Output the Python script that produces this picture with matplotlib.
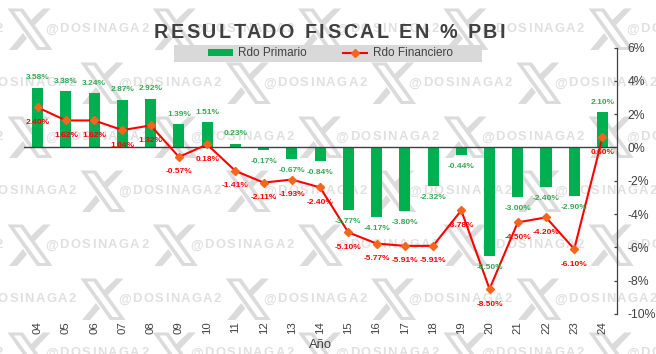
import matplotlib
matplotlib.use("Agg")
import matplotlib.pyplot as plt
from matplotlib.patches import Polygon, Rectangle
from matplotlib.text import Text
from matplotlib.transforms import IdentityTransform
from matplotlib.ticker import FuncFormatter

plt.rcParams['font.family'] = ['Liberation Sans', 'DejaVu Sans']

years = ['04','05','06','07','08','09','10','11','12','13','14','15','16','17','18','19','20','21','22','23','24']
primario = [3.58,3.38,3.24,2.87,2.92,1.39,1.51,0.23,-0.17,-0.67,-0.84,-3.77,-4.17,-3.80,-2.32,-0.44,-6.50,-3.00,-2.40,-2.90,2.10]
financiero = [2.40,1.62,1.62,1.04,1.32,-0.57,0.18,-1.41,-2.11,-1.93,-2.40,-5.10,-5.77,-5.91,-5.91,-3.78,-8.50,-4.50,-4.20,-6.10,0.60]
yticks = [6,4,2,0,-2,-4,-6,-8,-10]

W, H = 656, 354
GREEN, RED, ORANGE = '#00b050', '#ff0000', '#f5651d'
LABEL_GREEN = '#35a853'
DARK, WM, WMT = '#404040', '#dadbda', '#dfe0df'


class TrackedText(Text):
    """One text with extra letter spacing (pixels); va must be baseline, ha left or center."""
    def __init__(self, *args, tracking=0, **kwargs):
        super().__init__(*args, **kwargs)
        self.tracking = tracking

    def draw(self, renderer):
        s, pos, tr, ha = self.get_text(), self.get_position(), self.get_transform(), self.get_ha()
        fp = self.get_fontproperties()
        meas = lambda t: renderer.get_text_width_height_descent(t, fp, False)[0]
        probe = meas('H')
        x0, y0 = tr.transform(pos)
        total = meas(s) + (len(s)-1)*self.tracking
        if ha == 'center':
            x0 -= total/2
        self.set_transform(IdentityTransform())
        self.set_ha('left')
        for i, ch in enumerate(s):
            if ch == ' ':
                continue
            self._text = ch
            self.set_position((x0 + meas(s[:i]+'H') - probe + i*self.tracking, y0))
            super().draw(renderer)
        self._text = s
        self.set_position(pos)
        self.set_transform(tr)
        self.set_ha(ha)


fig = plt.figure(figsize=(W/100, H/100), dpi=100, facecolor='white')

# Watermark layer in pixel coordinates
bg = fig.add_axes([0, 0, 1, 1], zorder=0)
bg.set_xlim(0, W); bg.set_ylim(H, 0); bg.axis('off')
PX, PY = 145.3, 54
def tile(dx, dy):
    for pts, c in (
        ([(7.5,8.5),(23,8.5),(52.5,50),(37,50)], WM),
        ([(14,11.5),(20.5,11.5),(46,47),(39.5,47)], 'white'),
        ([(43,8.5),(50.5,8.5),(33,27),(29,22)], WM),
        ([(9,50),(17,50),(27,38.5),(23,33)], WM),
    ):
        bg.add_patch(Polygon([(x+dx, y+dy) for x, y in pts], closed=True, fc=c, ec='none'))
    bg.add_artist(TrackedText(45+dx, 32.5+dy, '@DOSINAGA2', color=WMT, fontsize=9.4, fontweight='bold',
                              ha='left', va='baseline', tracking=1.5, transform=bg.transData))
for r in range(7):
    off = 73 if r % 2 else 0
    for c in range(-1, 5):
        tile(c*PX + off, r*PY)
bg.add_patch(Rectangle((174, 45), 308, 17, fc='#d9d9d9', ec='none', zorder=10))

# Main chart
L, R, T, B = 23.6, 616.6, 47.5, 314
ax = fig.add_axes([L/W, 1-B/H, (R-L)/W, (B-T)/H], zorder=1)
ax.patch.set_visible(False)
xs = list(range(len(years)))
bars = ax.bar(xs, primario, width=0.39, color=GREEN, label='Rdo Primario', zorder=2)
line, = ax.plot(xs, financiero, color=RED, lw=1.5, marker='D', ms=3.6, mfc=ORANGE, mec=ORANGE,
                label='Rdo Financiero', zorder=3)
ax.set_xlim(-0.5, len(years)-0.5)
ax.set_ylim(-10, 6)
ax.axhline(0, color=DARK, lw=1, zorder=2.5)

for s in ('top', 'left', 'bottom'):
    ax.spines[s].set_visible(False)
ax.spines['right'].set_color(DARK)
ax.spines['right'].set_linewidth(0.9)
ax.yaxis.tick_right()
ax.set_yticks(yticks)
ax.yaxis.set_major_formatter(FuncFormatter(lambda v, p: f'{v:.0f}%'))
ax.tick_params(axis='y', direction='in', length=2.5, width=0.9, color=DARK,
               labelcolor=DARK, labelsize=8.8, pad=8)
ax.set_xticks(xs)
ax.set_xticklabels(years, rotation=90)
ax.tick_params(axis='x', length=0, labelcolor=DARK, labelsize=8.2, pad=5)
ax.set_xlabel('Año', fontsize=9.4, color=DARK, labelpad=4)

for x, v in zip(xs, primario):
    off = 10 if v > 0 else -11.5
    ax.annotate(f'{v:.2f}%', (x, v), xytext=(0, off*0.72), textcoords='offset points',
                ha='center', va='center', color=LABEL_GREEN, fontsize=6, fontweight='bold', zorder=5)
for x, v in zip(xs, financiero):
    ax.annotate(f'{v:.2f}%', (x, v), xytext=(0, -15*0.72), textcoords='offset points',
                ha='center', va='center', color=RED, fontsize=6, fontweight='bold', zorder=5)

fig.add_artist(TrackedText(329.5/W, 1-38.2/H, 'RESULTADO FISCAL EN % PBI', ha='center', va='baseline',
                           fontsize=14.2, fontweight='bold', color=DARK, tracking=2.5,
                           transform=fig.transFigure, zorder=5))

leg = ax.legend(handles=[bars, line], loc='center', bbox_to_anchor=(330.5/W, 1-53.5/H),
                bbox_transform=fig.transFigure, ncol=2, borderaxespad=0, borderpad=0,
                fontsize=8.5, frameon=False, handlelength=2.1, handleheight=0.55,
                columnspacing=3.0, handletextpad=0.45)
for t in leg.get_texts():
    t.set_color(DARK)

fig.savefig('out.png', dpi=100)
